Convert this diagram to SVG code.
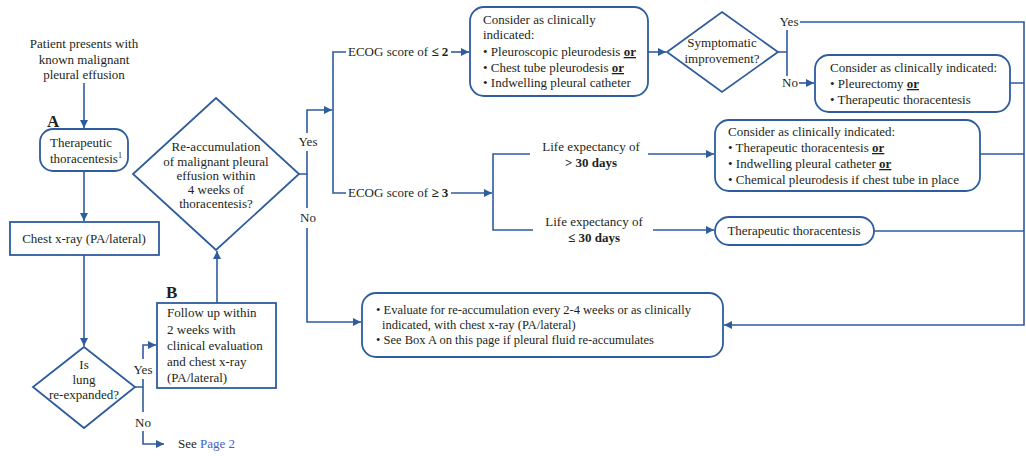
<svg xmlns="http://www.w3.org/2000/svg" width="1026" height="456" viewBox="0 0 1026 456">
<style>
text{font-family:"Liberation Serif","Times New Roman",serif;font-size:13px;fill:#231f20}
.c{text-anchor:middle}
.b{font-weight:bold}
.u{font-weight:bold;text-decoration:underline}
.box{fill:#fff;stroke:#2e5c9e;stroke-width:1.8}
.ln{fill:none;stroke:#2e5c9e;stroke-width:1.6}
.lbl{font-size:17px;font-weight:bold}
.sm{font-size:12.5px}
</style>
<defs>
<marker id="ah" markerUnits="userSpaceOnUse" markerWidth="9" markerHeight="8" refX="8" refY="4" orient="auto">
<path d="M0,0 L8,4 L0,8 z" fill="#2e5c9e"/>
</marker>
</defs>
<rect width="1026" height="456" fill="#fff"/>

<g id="connectors">
<path class="ln" d="M84,83 V128" marker-end="url(#ah)"/>
<path class="ln" d="M84,171 V221" marker-end="url(#ah)"/>
<path class="ln" d="M84,255 V346" marker-end="url(#ah)"/>
<path class="ln" d="M135,387 H143 V379 M143,359 V345 H156" marker-end="url(#ah)"/>
<path class="ln" d="M143,387 V412 M143,431 V444 H164" marker-end="url(#ah)"/>
<path class="ln" d="M217,303 V251" marker-end="url(#ah)"/>
<path class="ln" d="M299,174 H307 V151 M307,133 V110 H332" marker-end="url(#ah)"/>
<path class="ln" d="M307,174 V208 M307,228 V322 H361" marker-end="url(#ah)"/>
<path class="ln" d="M346,52 H333 V193 H346"/>
<path class="ln" d="M451,52 H469" marker-end="url(#ah)"/>
<path class="ln" d="M451,193 H492" marker-end="url(#ah)"/>
<path class="ln" d="M530,154 H493 V230 H533"/>
<path class="ln" d="M648,154 H714" marker-end="url(#ah)"/>
<path class="ln" d="M653,230 H714" marker-end="url(#ah)"/>
<path class="ln" d="M648,52 H666" marker-end="url(#ah)"/>
<path class="ln" d="M778,52 H787 M787,30 V76"/>
<path class="ln" d="M799,83 H814" marker-end="url(#ah)"/>
<path class="ln" d="M800,22 H1024 V325 H724" marker-end="url(#ah)"/>
<path class="ln" d="M1010,83 H1024 M980,154 H1024 M874,231 H1024"/>
</g>

<g id="edge-labels">
<text class="c" x="143" y="374">Yes</text>
<text class="c" x="143" y="427">No</text>
<text class="c" x="308" y="146">Yes</text>
<text class="c" x="308" y="222">No</text>
<text x="348" y="56">ECOG score of <tspan class="b">≤ 2</tspan></text>
<text x="348" y="197">ECOG score of <tspan class="b">≥ 3</tspan></text>
<text class="c" x="591" y="151">Life expectancy of</text>
<text class="c b" x="591" y="167">&gt; 30 days</text>
<text class="c" x="594" y="226">Life expectancy of</text>
<text class="c b" x="594" y="242">≤ 30 days</text>
<text class="c" x="789" y="26">Yes</text>
<text class="c" x="790" y="87">No</text>
</g>

<g id="start">
<text class="c" x="84" y="48">Patient presents with</text>
<text class="c" x="84" y="64">known malignant</text>
<text class="c" x="84" y="79">pleural effusion</text>
</g>

<g id="thoracentesis">
<text class="lbl" x="47" y="127">A</text>
<rect class="box" x="40" y="129" width="88" height="42" rx="13"/>
<text x="50" y="147">Therapeutic</text>
<text x="50" y="163">thoracentesis<tspan font-size="8" dy="-5">1</tspan></text>
</g>

<g id="chest-xray">
<rect class="box" x="10" y="222" width="149" height="33"/>
<text class="c" x="84" y="243">Chest x-ray (PA/lateral)</text>
</g>

<g id="lung-reexpanded">
<polygon class="box" points="84,347 135,387 84,428 33,387"/>
<text class="c" x="84" y="369">Is</text>
<text class="c" x="84" y="384">lung</text>
<text class="c" x="84" y="399">re-expanded?</text>
</g>

<g id="see-page2">
<text x="178" y="448">See <tspan fill="#3b63c6">Page 2</tspan></text>
</g>

<g id="follow-up">
<text class="lbl" x="166" y="298">B</text>
<rect class="box" x="157" y="303" width="119" height="85"/>
<text x="167" y="317">Follow up within</text>
<text x="167" y="334">2 weeks with</text>
<text x="167" y="350">clinical evaluation</text>
<text x="167" y="366">and chest x-ray</text>
<text x="167" y="382">(PA/lateral)</text>
</g>

<g id="reaccumulation">
<polygon class="box" points="216,98 299,174 216,250 133,174"/>
<text class="c" x="216" y="151">Re-accumulation</text>
<text class="c" x="216" y="166">of malignant pleural</text>
<text class="c" x="216" y="180">effusion within</text>
<text class="c" x="216" y="194">4 weeks of</text>
<text class="c" x="216" y="208">thoracentesis?</text>
</g>

<g id="ecog-low-options">
<rect class="box" x="470" y="7" width="178" height="89" rx="14"/>
<text x="483" y="24">Consider as clinically</text>
<text x="483" y="39">indicated:</text>
<text x="483" y="56">• Pleuroscopic pleurodesis <tspan class="u">or</tspan></text>
<text x="483" y="72">• Chest tube pleurodesis <tspan class="u">or</tspan></text>
<text x="483" y="87">• Indwelling pleural catheter</text>
</g>

<g id="symptomatic">
<polygon class="box" points="722,12 778,52 722,92 667,52"/>
<text class="c" x="722" y="47">Symptomatic</text>
<text class="c" x="722" y="63">improvement?</text>
</g>

<g id="no-improvement-options">
<rect class="box" x="815" y="55" width="195" height="57" rx="14"/>
<text x="830" y="72">Consider as clinically indicated:</text>
<text x="830" y="88">• Pleurectomy <tspan class="u">or</tspan></text>
<text x="830" y="104">• Therapeutic thoracentesis</text>
</g>

<g id="long-life-options">
<rect class="box" x="715" y="120" width="265" height="71" rx="14"/>
<text x="728" y="136">Consider as clinically indicated:</text>
<text x="728" y="152">• Therapeutic thoracentesis <tspan class="u">or</tspan></text>
<text x="728" y="168">• Indwelling pleural catheter <tspan class="u">or</tspan></text>
<text x="728" y="184">• Chemical pleurodesis if chest tube in place</text>
</g>

<g id="short-life-option">
<rect class="box" x="715" y="217" width="159" height="28" rx="14"/>
<text class="c" x="794" y="235">Therapeutic thoracentesis</text>
</g>

<g id="evaluate">
<rect class="box" x="362" y="293" width="361" height="64" rx="14"/>
<text class="sm" x="376" y="314">• Evaluate for re-accumulation every 2-4 weeks or as clinically</text>
<text class="sm" x="382" y="329">indicated, with chest x-ray (PA/lateral)</text>
<text class="sm" x="376" y="344">• See Box A on this page if pleural fluid re-accumulates</text>
</g>
</svg>
